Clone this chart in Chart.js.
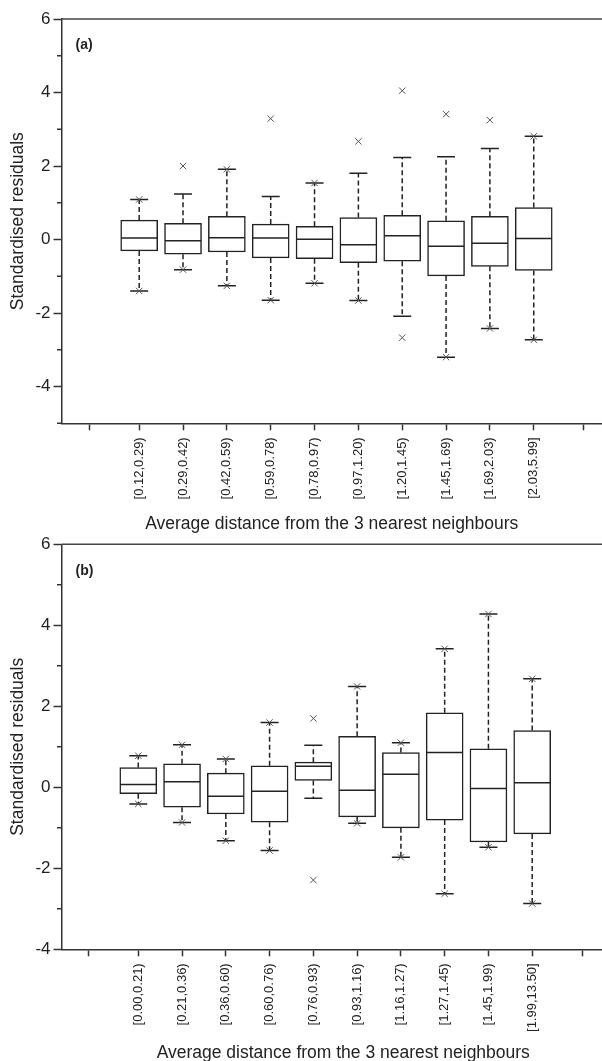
<!DOCTYPE html>
<html lang="en">
<head>
<meta charset="UTF-8">
<title>Standardised residuals by distance class</title>
<script src="https://cdn.jsdelivr.net/npm/chart.js"></script>
<style>
  html, body { margin: 0; padding: 0; background: #fff; overflow: hidden; }
  .page { position: relative; width: 602px; height: 1061px; overflow: hidden; }
  #chartA { position: absolute; left: 0; top: 0; }
  #chartB { position: absolute; left: 0; top: 525px; }
</style>
</head>
<body>
<div class="page">
  <canvas id="chartA" width="602" height="540"></canvas>
  <canvas id="chartB" width="625" height="545"></canvas>
</div>
<script>
// Panel (a) - distance classes and box statistics
const binsA = ['[0.12,0.29)', '[0.29,0.42)', '[0.42,0.59)', '[0.59,0.78)', '[0.78,0.97)',
               '[0.97,1.20)', '[1.20,1.45)', '[1.45,1.69)', '[1.69,2.03)', '[2.03,5.99]'];
const q1A  = [-0.31, -0.40, -0.34, -0.50, -0.52, -0.63, -0.59, -0.99, -0.73, -0.84];
const medA = [ 0.04, -0.03,  0.05,  0.04,  0.01, -0.14,  0.10, -0.18, -0.10,  0.03];
const q3A  = [ 0.53,  0.44,  0.63,  0.42,  0.36,  0.60,  0.66,  0.51,  0.63,  0.87];
const loA  = [-1.40, -0.82, -1.26, -1.65, -1.19, -1.66, -2.09, -3.20, -2.42, -2.73];
const hiA  = [ 1.09,  1.24,  1.91,  1.17,  1.54,  1.80,  2.23,  2.25,  2.48,  2.81];
const minA = [-1.40, -0.82, -1.26, -1.65, -1.19, -1.66, -2.67, -3.20, -2.42, -2.73];
const maxA = [ 1.09,  2.00,  1.91,  3.29,  1.54,  2.67,  4.05,  3.41,  3.25,  2.81];

// Panel (b)
const binsB = ['[0.00,0.21)', '[0.21,0.36)', '[0.36,0.60)', '[0.60,0.76)', '[0.76,0.93)',
               '[0.93,1.16)', '[1.16,1.27)', '[1.27,1.45)', '[1.45,1.99)', '[1.99,13.50]'];
const q1B  = [-0.16, -0.49, -0.66, -0.86,  0.17, -0.73, -1.00, -0.81, -1.35, -1.15];
const medB = [ 0.07,  0.14, -0.22, -0.10,  0.52, -0.07,  0.32,  0.86, -0.03,  0.11];
const q3B  = [ 0.49,  0.58,  0.35,  0.53,  0.62,  1.26,  0.86,  1.84,  0.95,  1.40];
const loB  = [-0.41, -0.87, -1.32, -1.56, -0.27, -0.89, -1.73, -2.63, -1.48, -2.87];
const hiB  = [ 0.78,  1.05,  0.70,  1.60,  1.04,  2.49,  1.10,  3.42,  4.28,  2.68];
const minB = [-0.41, -0.87, -1.32, -1.56, -2.29, -0.89, -1.73, -2.63, -1.48, -2.87];
const maxB = [ 0.78,  1.05,  0.70,  1.60,  1.70,  2.49,  1.10,  3.42,  4.28,  2.68];

// x tick marks: the ten classes plus one unlabelled tick either side
const xTicks = [-0.14, 1, 2, 3, 4, 5, 6, 7, 8, 9, 10, 11.14];

const FONT = "'Liberation Sans', Arial, sans-serif";
const INK = '#222';

// whiskers, caps, medians, minor ticks, top frame and panel tag
const boxParts = {
  id: 'boxParts',
  beforeDatasetsDraw(chart, args, o) {
    const x = chart.scales.x, y = chart.scales.y, ctx = chart.ctx;
    ctx.save();
    ctx.strokeStyle = INK;
    ctx.lineWidth = 1.5;
    o.q1.forEach((q, i) => {
      const px = x.getPixelForValue(i + 1);
      ctx.setLineDash([5, 3]);
      ctx.beginPath();
      ctx.moveTo(px, y.getPixelForValue(o.q3[i]));
      ctx.lineTo(px, y.getPixelForValue(o.hi[i]));
      ctx.moveTo(px, y.getPixelForValue(q));
      ctx.lineTo(px, y.getPixelForValue(o.lo[i]));
      ctx.stroke();
      ctx.setLineDash([]);
      ctx.beginPath();
      [o.hi[i], o.lo[i]].forEach(v => {
        const py = y.getPixelForValue(v);
        ctx.moveTo(px - 9, py);
        ctx.lineTo(px + 9, py);
      });
      ctx.stroke();
    });
    ctx.restore();
  },
  afterDatasetsDraw(chart, args, o) {
    const x = chart.scales.x, y = chart.scales.y, ctx = chart.ctx;
    const area = chart.chartArea;
    ctx.save();
    ctx.strokeStyle = INK;
    ctx.lineWidth = 1.5;
    ctx.beginPath();
    o.med.forEach((m, i) => {
      const px = x.getPixelForValue(i + 1);
      const py = y.getPixelForValue(m);
      ctx.moveTo(px - 18, py);
      ctx.lineTo(px + 18, py);
    });
    ctx.stroke();

    // minor y ticks on odd values
    ctx.strokeStyle = '#333';
    ctx.beginPath();
    for (let v = Math.ceil(y.min); v <= y.max; v++) {
      if (Math.abs(v % 2) !== 1) continue;
      const py = y.getPixelForValue(v);
      ctx.moveTo(area.left - 4.5, py);
      ctx.lineTo(area.left, py);
    }
    ctx.stroke();

    // top frame line
    ctx.strokeStyle = '#444';
    ctx.beginPath();
    ctx.moveTo(area.left, area.top);
    ctx.lineTo(area.right, area.top);
    ctx.stroke();

    ctx.fillStyle = INK;
    ctx.font = 'bold 14px ' + FONT;
    ctx.textBaseline = 'middle';
    ctx.fillText(o.tag, area.left + 14, area.top + 26.5);
    ctx.restore();
  }
};

function makeChart(id, bins, q1, med, q3, lo, hi, mn, mx, yMin, xMin, xMax, topPad, xHeight, titlePad, tag) {
  const boxes = bins.map((b, i) => ({ x: i + 1, y: [q1[i], q3[i]] }));
  const extremes = [];
  bins.forEach((b, i) => {
    extremes.push({ x: i + 1, y: mn[i] });
    extremes.push({ x: i + 1, y: mx[i] });
  });

  return new Chart(document.getElementById(id), {
    type: 'bar',
    data: {
      datasets: [{
        data: boxes,
        backgroundColor: '#fff',
        borderColor: INK,
        borderWidth: 1.5,
        borderSkipped: false,
        barThickness: 37
      }, {
        type: 'scatter',
        data: extremes,
        pointStyle: 'crossRot',
        pointRadius: 4.5,
        borderColor: '#555',
        borderWidth: 1
      }]
    },
    options: {
      responsive: false,
      animation: false,
      layout: { autoPadding: false, padding: { top: topPad, right: 0, bottom: 0, left: 0 } },
      plugins: {
        legend: { display: false },
        tooltip: { enabled: false },
        boxParts: { q1, med, q3, lo, hi, tag }
      },
      scales: {
        x: {
          type: 'linear',
          min: xMin,
          max: xMax,
          offset: false,
          afterBuildTicks: s => { s.ticks = xTicks.map(v => ({ value: v })); },
          afterFit: s => { s.height = xHeight; s.paddingLeft = 0; s.paddingRight = 0; },
          ticks: {
            autoSkip: false,
            minRotation: 90,
            maxRotation: 90,
            padding: 7,
            color: INK,
            font: { family: FONT, size: 13 },
            callback: v => (Number.isInteger(v) && v >= 1 && v <= bins.length) ? bins[v - 1] : ''
          },
          grid: { offset: false, drawOnChartArea: false, tickLength: 7, tickWidth: 1.5, tickColor: '#333' },
          border: { color: '#333', width: 1.5 },
          title: {
            display: true,
            text: 'Average distance from the 3 nearest neighbours',
            color: INK,
            font: { family: FONT, size: 17.5 },
            padding: { top: 0, bottom: titlePad }
          }
        },
        y: {
          min: yMin,
          max: 6,
          afterFit: s => { s.width = 61.5; s.paddingTop = 0; s.paddingBottom = 0; },
          ticks: {
            stepSize: 1,
            padding: 3,
            color: INK,
            font: { family: FONT, size: 17 },
            callback: v => (v % 2 === 0 ? v : '')
          },
          grid: {
            drawOnChartArea: false,
            tickLength: 8,
            tickWidth: 1.5,
            tickColor: c => (c.tick && c.tick.value % 2 === 0 ? '#333' : 'rgba(0,0,0,0)')
          },
          border: { color: '#333', width: 1.5 },
          title: {
            display: true,
            text: 'Standardised residuals',
            color: INK,
            font: { family: FONT, size: 17.5 },
            padding: { top: 8, bottom: 0 }
          }
        }
      }
    },
    plugins: [boxParts]
  });
}

makeChart('chartA', binsA, q1A, medA, q3A, loA, hiA, minA, maxA, -5, -0.772, 11.557, 19, 116.7, 5.5, '(a)');
makeChart('chartB', binsB, q1B, medB, q3B, loB, hiB, minB, maxB, -4, -0.754, 12.12, 19.3, 120.7, 6.5, '(b)');
</script>
</body>
</html>
